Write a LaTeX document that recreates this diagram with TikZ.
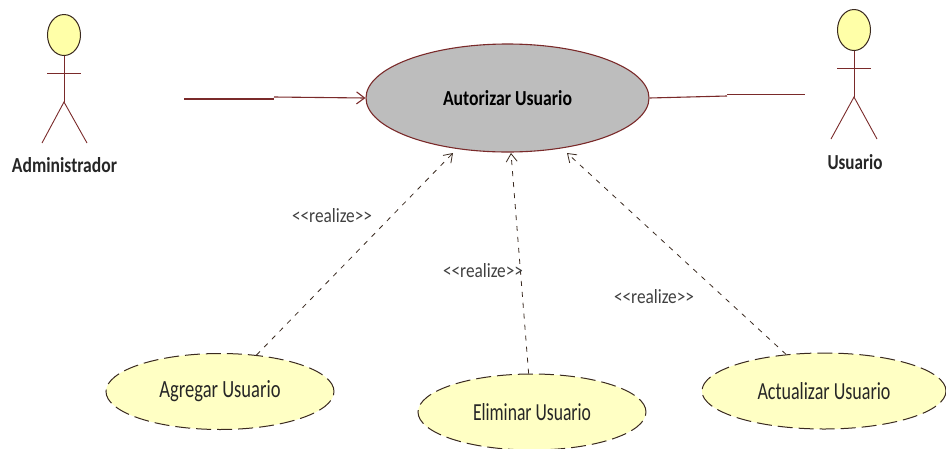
\documentclass[tikz,border=0pt]{standalone}
\usepackage{fontspec}
\usepackage{graphicx}
\setmainfont{Carlito}
\usetikzlibrary{shapes.geometric,arrows.meta}
\definecolor{umlred}{HTML}{7A2A2A}
\definecolor{umlink}{HTML}{3A2A20}
\definecolor{headyellow}{HTML}{FFFFA8}
\definecolor{caseyellow}{HTML}{FFFFC4}
\definecolor{maingray}{HTML}{BDBDBD}
\tikzset{
  umlcase/.style={ellipse,draw=umlink,fill=caseyellow,line width=1pt,inner sep=0pt,dash pattern=on 15pt off 6pt,text=black!85,font=\fontsize{18}{18}\selectfont},
  maincase/.style={ellipse,draw=umlred,fill=maingray,line width=1.1pt,inner sep=0pt,font=\bfseries\fontsize{16}{16}\selectfont},
  head/.style={ellipse,draw=umlink,fill=headyellow,line width=1pt,inner sep=0pt,minimum width=33pt,minimum height=41pt},
  limb/.style={draw=umlred,line width=0.9pt},
  assoc/.style={draw=umlred,line width=1.1pt},
  realizes/.style={draw=umlink,line width=0.8pt,dash pattern=on 5pt off 6pt,-{Straight Barb[length=8pt,width=11pt]}},
  actorname/.style={inner sep=0pt,font=\bfseries\fontsize{17}{17}\selectfont,text=black!85},
  stereo/.style={inner sep=0pt,font=\fontsize{14.5}{15}\selectfont,text=black!75}
}
\begin{document}
\begin{tikzpicture}[x=1pt,y=-1pt]
\useasboundingbox (0,0) rectangle (946,448);
% main use case
\node[maincase,minimum width=283pt,minimum height=108pt] (main) at (507.5,98) {\resizebox{129pt}{15pt}{Autorizar Usuario}};
% administrator
\node[head] (h1) at (64,35) {};
\coordinate (arm1l) at (47,73);
\coordinate (arm1r) at (81,73);
\coordinate (hip1) at (64,102);
\coordinate (leg1l) at (42,143);
\coordinate (leg1r) at (87,143);
\draw[limb] (h1.south) -- (hip1);
\draw[limb] (arm1l) -- (arm1r);
\draw[limb] (leg1l) -- (hip1) -- (leg1r);
\node[actorname] (n1) at (64.5,165) {\resizebox{105pt}{15pt}{Administrador}};
% user
\node[head] (h2) at (854,30) {};
\coordinate (arm2l) at (837,68);
\coordinate (arm2r) at (871,68);
\coordinate (hip2) at (854,97);
\coordinate (leg2l) at (831,139);
\coordinate (leg2r) at (877,139);
\draw[limb] (h2.south) -- (hip2);
\draw[limb] (arm2l) -- (arm2r);
\draw[limb] (leg2l) -- (hip2) -- (leg2r);
\node[actorname] (n2) at (855,162) {\resizebox{55pt}{15pt}{Usuario}};
% associations
\coordinate (a1s) at (184,99);
\coordinate (a1m) at (274,99);
\coordinate (a1t) at (274,97);
\draw[assoc] (a1s) -- (a1m);
\draw[assoc,-{Straight Barb[length=8pt,width=12pt]}] (a1t) -- (main.west);
\coordinate (a2m) at (727,96);
\coordinate (a2n) at (727,94.5);
\coordinate (a2e) at (805,94.5);
\draw[assoc] (main.east) -- (a2m);
\draw[assoc] (a2n) -- (a2e);
% secondary use cases
\node[umlcase,minimum width=228pt,minimum height=76pt] (ag) at (220,391.5) {\resizebox{121pt}{17pt}{Agregar Usuario}};
\node[umlcase,minimum width=228pt,minimum height=76pt] (el) at (532,412) {\resizebox{118pt}{17pt}{Eliminar Usuario}};
\node[umlcase,minimum width=244pt,minimum height=76pt] (ac) at (824,391) {\resizebox{133pt}{17pt}{Actualizar Usuario}};
% realizations
\coordinate (t1) at (453,153);
\coordinate (t2) at (511,153);
\coordinate (t3) at (567,153);
\draw[realizes] (ag.45) -- (t1);
\draw[realizes] (el.95) -- (t2);
\draw[realizes] (ac.136) -- (t3);
\node[stereo] (r1) at (332,216) {\resizebox{80pt}{14pt}{<{}<realize>{}>}};
\node[stereo] (r2) at (483,271) {\resizebox{80pt}{14pt}{<{}<realize>{}>}};
\node[stereo] (r3) at (654,297) {\resizebox{80pt}{14pt}{<{}<realize>{}>}};
\end{tikzpicture}
\end{document}
